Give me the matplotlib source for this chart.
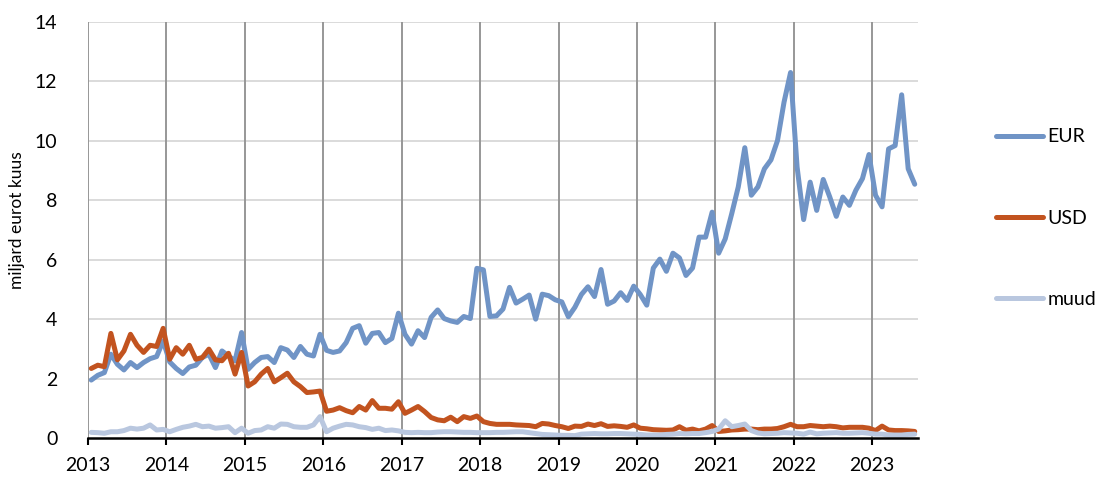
import matplotlib
matplotlib.use("Agg")
import matplotlib.pyplot as plt
import numpy as np

years = [str(y) for y in range(2013, 2024)]

eur = [1.95, 2.11, 2.2, 2.82, 2.48, 2.29, 2.54, 2.37, 2.54, 2.67, 2.74, 3.27,
       2.56, 2.34, 2.17, 2.39, 2.45, 2.71, 2.82, 2.37, 2.93, 2.76, 2.6, 3.55,
       2.31, 2.54, 2.71, 2.74, 2.54, 3.04, 2.96, 2.71, 3.08, 2.82, 2.76, 3.49,
       2.95, 2.88, 2.93, 3.21, 3.69, 3.78, 3.19, 3.52, 3.55, 3.21, 3.35, 4.2,
       3.49, 3.16, 3.61, 3.38, 4.06, 4.31, 4.02, 3.94, 3.89, 4.09, 4.02, 5.71,
       5.66, 4.09, 4.11, 4.34, 5.07, 4.54, 4.67, 4.81, 4.0, 4.84, 4.79, 4.65,
       4.58, 4.08, 4.4, 4.83, 5.09, 4.76, 5.67, 4.5, 4.61, 4.89, 4.63, 5.11,
       4.83, 4.47, 5.72, 6.02, 5.61, 6.22, 6.06, 5.47, 5.72, 6.76, 6.76, 7.6,
       6.22, 6.7, 7.55, 8.45, 9.77, 8.17, 8.45, 9.06, 9.36, 10.01, 11.3, 12.3,
       9.12, 7.35, 8.61, 7.66, 8.7, 8.11, 7.46, 8.11, 7.83, 8.34, 8.73, 9.54,
       8.17, 7.78, 9.73, 9.84, 11.55, 9.06, 8.54]

usd = [2.34, 2.45, 2.4, 3.52, 2.63, 2.93, 3.49, 3.12, 2.88, 3.12, 3.08, 3.69,
       2.65, 3.04, 2.82, 3.12, 2.65, 2.71, 2.99, 2.63, 2.6, 2.85, 2.15, 2.88,
       1.75, 1.89, 2.15, 2.34, 1.89, 2.03, 2.18, 1.89, 1.73, 1.53, 1.55, 1.58,
       0.9, 0.94, 1.02, 0.92, 0.85, 1.06, 0.94, 1.26, 1.0, 1.0, 0.97, 1.22,
       0.83, 0.94, 1.06, 0.89, 0.69, 0.61, 0.58, 0.7, 0.55, 0.72, 0.66, 0.74,
       0.55, 0.49, 0.46, 0.46, 0.46, 0.44, 0.43, 0.42, 0.38, 0.49, 0.47, 0.42,
       0.38, 0.32, 0.4, 0.39, 0.47, 0.42, 0.48, 0.39, 0.41, 0.39, 0.36, 0.44,
       0.33, 0.31, 0.28, 0.27, 0.26, 0.27, 0.38, 0.26, 0.3, 0.24, 0.3, 0.42,
       0.22, 0.24, 0.27, 0.28, 0.3, 0.3, 0.28, 0.3, 0.3, 0.32, 0.38, 0.46,
       0.38, 0.38, 0.42, 0.4, 0.38, 0.4, 0.38, 0.34, 0.36, 0.36, 0.36, 0.33,
       0.25, 0.4, 0.27, 0.25, 0.25, 0.24, 0.22]

muud = [0.19, 0.18, 0.16, 0.21, 0.21, 0.25, 0.33, 0.3, 0.33, 0.44, 0.27, 0.29,
        0.21, 0.29, 0.36, 0.4, 0.46, 0.38, 0.4, 0.33, 0.35, 0.38, 0.18, 0.33,
        0.16, 0.25, 0.27, 0.38, 0.33, 0.47, 0.46, 0.38, 0.36, 0.36, 0.44, 0.72,
        0.21, 0.33, 0.4, 0.46, 0.44, 0.38, 0.35, 0.29, 0.33, 0.25, 0.27, 0.24,
        0.19, 0.18, 0.19, 0.18, 0.18, 0.2, 0.21, 0.21, 0.2, 0.19, 0.19, 0.18,
        0.18, 0.18, 0.19, 0.19, 0.2, 0.21, 0.21, 0.18, 0.15, 0.12, 0.11, 0.1,
        0.09, 0.09, 0.08, 0.13, 0.14, 0.15, 0.14, 0.14, 0.15, 0.15, 0.14, 0.13,
        0.12, 0.1, 0.1, 0.1, 0.12, 0.13, 0.15, 0.14, 0.15, 0.15, 0.18, 0.22,
        0.3, 0.58, 0.38, 0.42, 0.47, 0.25, 0.17, 0.14, 0.15, 0.16, 0.18, 0.17,
        0.16, 0.13, 0.2, 0.14, 0.16, 0.17, 0.18, 0.16, 0.16, 0.17, 0.18, 0.16,
        0.13, 0.13, 0.1, 0.1, 0.1, 0.12, 0.13]

series = [("EUR", eur, "#7094C6"), ("USD", usd, "#C2531F"), ("muud", muud, "#B9C7DF")]

plt.rcParams['font.family'] = ['Lato', 'DejaVu Sans']

fig = plt.figure(figsize=(11.1, 4.84), dpi=100)
ax = fig.add_axes([88/1110, 1-438/484, (918-88)/1110, (438-22)/484])

n = len(eur)
x = np.arange(n) + 0.5

for yv in range(2, 15, 2):
    ax.axhline(yv, color="#D4D4D4", lw=1.2, zorder=0)
year_pos = np.arange(0, n, 12)
for xp in year_pos:
    ax.axvline(xp, color="#979797", lw=1.4, zorder=0.5)

handles = []
for name, vals, col in series:
    h, = ax.plot(x, vals, color=col, lw=3.6, solid_joinstyle="round",
                 solid_capstyle="round", label=name, zorder=2)
    handles.append(h)

ax.set_xlim(0, n)
ax.set_ylim(0, 14)
ax.set_yticks(range(0, 15, 2))
ax.set_xticks(year_pos)
ax.set_xticklabels(years)
for s in ["top", "right", "left"]:
    ax.spines[s].set_visible(False)
ax.spines["bottom"].set_color("black")
ax.spines["bottom"].set_linewidth(1.8)
ax.spines["bottom"].set_zorder(3)
ax.tick_params(axis="y", length=0, labelsize=14, pad=22)
ax.tick_params(axis="x", length=5, width=1.5, direction="out", labelsize=14, pad=9)

ax.set_ylabel("miljard eurot kuus", fontsize=12.5)
ax.yaxis.set_label_coords((25-88)/830, (438-220)/416)

fig.legend(handles=handles, loc="center left", bbox_to_anchor=(996/1110, 1-218/484),
           frameon=False, fontsize=14, labelspacing=3.3, handlelength=2.4,
           handletextpad=0.25, borderpad=0, borderaxespad=0)

fig.savefig("out.png", dpi=100)
